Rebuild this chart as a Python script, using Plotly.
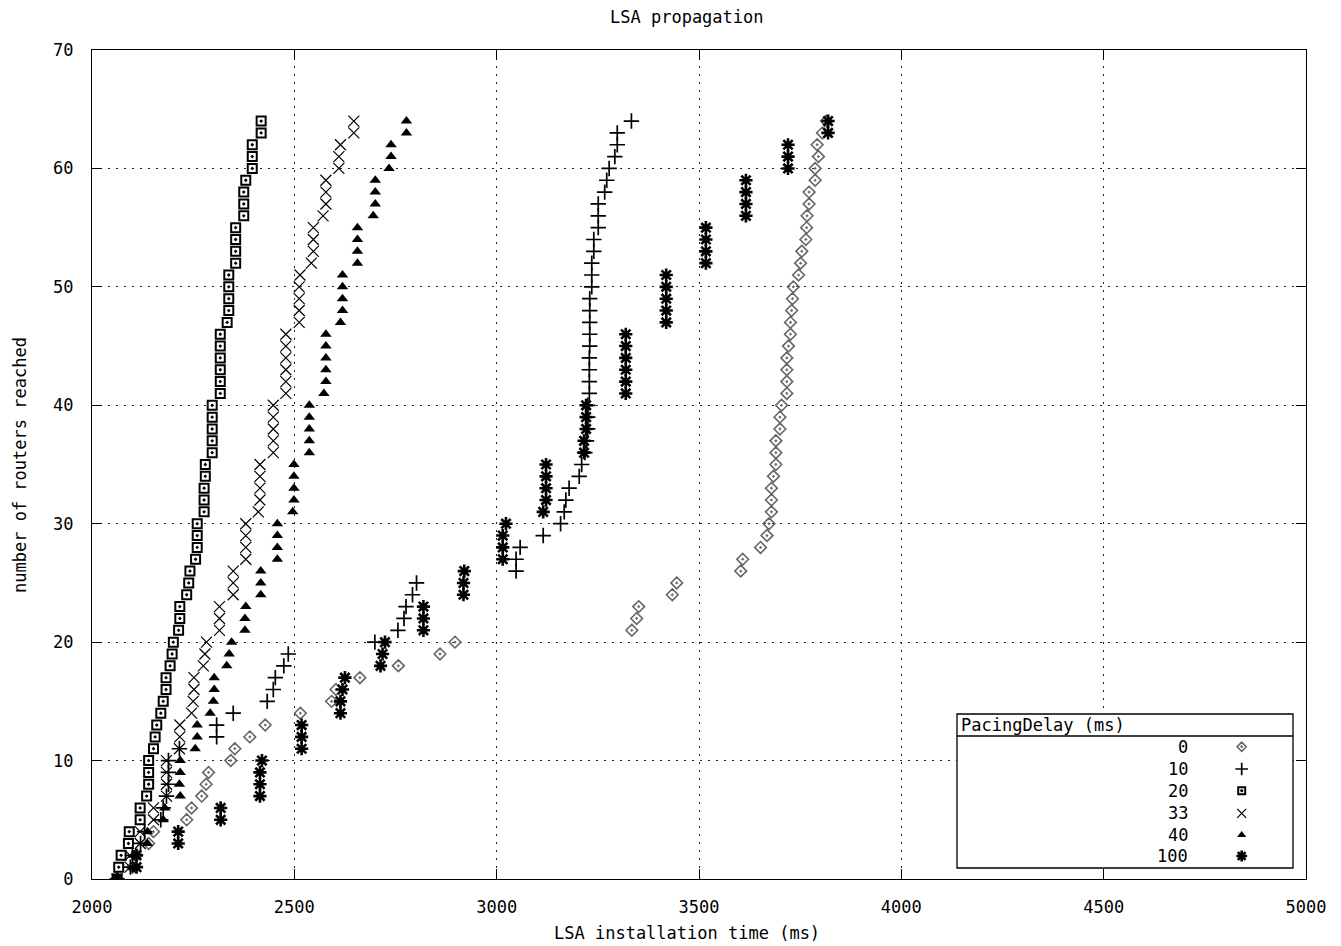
import plotly.graph_objects as go

# ---------------- data ----------------
routers_reached = list(range(65))

time_delay_0 = [2062, 2100, 2110, 2140, 2152, 2234, 2246, 2271, 2282, 2288,
                2343, 2353, 2390, 2428, 2515, 2592, 2603, 2662, 2757, 2860,
                2897, 3334, 3346, 3351, 3434, 3445, 3603, 3608, 3652, 3668,
                3673, 3679, 3679, 3679, 3684, 3690, 3690, 3690, 3700, 3700,
                3704, 3717, 3717, 3717, 3717, 3721, 3726, 3726, 3729, 3731,
                3733, 3746, 3751, 3754, 3764, 3766, 3767, 3772, 3772, 3787,
                3787, 3795, 3792, 3805, 3815]

time_delay_10 = [2062, 2095, 2100, 2120, 2130, 2170, 2176, 2184, 2189, 2189,
                 2189, 2216, 2308, 2308, 2349, 2433, 2448, 2453, 2474, 2485,
                 2699, 2756, 2771, 2776, 2792, 2802, 3048, 3048, 3058, 3115,
                 3158, 3167, 3171, 3179, 3204, 3210, 3218, 3222, 3225, 3225,
                 3225, 3229, 3229, 3229, 3229, 3230, 3230, 3230, 3230, 3230,
                 3235, 3235, 3235, 3240, 3240, 3251, 3251, 3251, 3267, 3272,
                 3278, 3292, 3298, 3298, 3333]

time_delay_20 = [2062, 2066, 2072, 2090, 2092, 2119, 2119, 2135, 2140, 2140,
                 2140, 2152, 2156, 2160, 2170, 2176, 2183, 2183, 2193, 2198,
                 2201, 2214, 2217, 2217, 2234, 2239, 2242, 2256, 2260, 2260,
                 2260, 2277, 2277, 2277, 2280, 2280, 2297, 2297, 2297, 2297,
                 2297, 2317, 2317, 2317, 2317, 2317, 2317, 2334, 2338, 2338,
                 2338, 2338, 2355, 2355, 2355, 2355, 2375, 2375, 2375, 2380,
                 2396, 2396, 2396, 2418, 2418]

time_delay_33 = [2062, 2094, 2094, 2119, 2119, 2152, 2152, 2184, 2184, 2184,
                 2184, 2216, 2217, 2217, 2246, 2250, 2252, 2252, 2275, 2279,
                 2283, 2315, 2315, 2315, 2349, 2349, 2349, 2380, 2380, 2380,
                 2380, 2411, 2415, 2415, 2415, 2415, 2448, 2448, 2448, 2448,
                 2448, 2479, 2479, 2479, 2479, 2479, 2479, 2512, 2512, 2512,
                 2512, 2514, 2542, 2547, 2547, 2547, 2571, 2578, 2578, 2578,
                 2610, 2610, 2614, 2647, 2647]

time_delay_40 = [2062, 2102, 2102, 2137, 2137, 2176, 2180, 2218, 2216, 2218,
                 2218, 2255, 2260, 2260, 2292, 2300, 2302, 2302, 2333, 2339,
                 2345, 2378, 2378, 2380, 2417, 2417, 2417, 2458, 2458, 2458,
                 2458, 2496, 2499, 2499, 2499, 2499, 2537, 2537, 2537, 2537,
                 2537, 2573, 2578, 2578, 2578, 2578, 2578, 2614, 2619, 2619,
                 2619, 2619, 2656, 2656, 2656, 2656, 2695, 2700, 2700, 2700,
                 2734, 2739, 2739, 2777, 2777]

time_delay_100 = [2062, 2110, 2110, 2213, 2213, 2318, 2318, 2415, 2415, 2415,
                  2420, 2518, 2518, 2518, 2614, 2614, 2619, 2625, 2713, 2718,
                  2724, 2819, 2819, 2819, 2918, 2918, 2920, 3015, 3015, 3015,
                  3023, 3115, 3122, 3122, 3122, 3122, 3216, 3216, 3221, 3221,
                  3221, 3319, 3319, 3319, 3319, 3319, 3319, 3419, 3419, 3419,
                  3419, 3419, 3517, 3517, 3517, 3517, 3616, 3616, 3616, 3616,
                  3720, 3720, 3720, 3819, 3819]

delay_labels = ["0", "10", "20", "33", "40", "100"]
series_times = [time_delay_0, time_delay_10, time_delay_20,
                time_delay_33, time_delay_40, time_delay_100]

x_ticks = [2000, 2500, 3000, 3500, 4000, 4500, 5000]
y_ticks = [0, 10, 20, 30, 40, 50, 60, 70]

# ---------------- styles ----------------
FONT = "DejaVu Sans Mono"
FS = 17
marker_styles = [
    dict(symbol="diamond-open-dot", size=9, color="#666666", line=dict(width=1.6, color="#666666")),
    dict(symbol="cross-thin-open", size=11, color="black", line=dict(width=1.7, color="black")),
    dict(symbol="square-open-dot", size=9, color="black", line=dict(width=2, color="black")),
    dict(symbol="x-thin-open", size=11, color="black", line=dict(width=1.2, color="black")),
    dict(symbol="triangle-up", size=10, color="black", line=dict(width=0)),
    dict(symbol="asterisk-open", size=11, color="black", line=dict(width=2.6, color="black")),
]

W, H = 1341, 946
L, R, T, B = 92, 1306, 50, 879
pw, ph = R - L, B - T
X0, X1 = x_ticks[0], x_ticks[-1]
Y0, Y1 = y_ticks[0], y_ticks[-1]

fig = go.Figure()
for lab, ts, ms in zip(delay_labels, series_times, marker_styles):
    fig.add_trace(go.Scatter(x=ts, y=routers_reached, mode="markers",
                             marker=ms, name=lab, showlegend=False))

# ---------------- custom gnuplot-style key ----------------
def fx(px):
    return (px - L) / pw

def fy(py):
    return (B - py) / ph

def dx(px):
    return X0 + fx(px) * (X1 - X0)

def dy(py):
    return Y0 + fy(py) * (Y1 - Y0)

row_y = [746.7, 769, 790.7, 813.3, 835, 856]
sym_x = 1241.7
lab_x = 1190

fig.add_shape(type="rect", xref="x", yref="y", x0=dx(957), x1=dx(1293),
              y0=dy(868), y1=dy(714), line=dict(color="black", width=1.3),
              fillcolor="white", layer="between")
fig.add_shape(type="line", xref="x", yref="y", x0=dx(957), x1=dx(1293),
              y0=dy(736), y1=dy(736), line=dict(color="black", width=1.3),
              layer="between")
fig.add_annotation(xref="paper", yref="paper", x=fx(959), y=fy(725), text="PacingDelay (ms)",
                   showarrow=False, xanchor="left", yanchor="middle",
                   font=dict(family=FONT, size=FS, color="black"))
for i, (lab, ms) in enumerate(zip(delay_labels, marker_styles)):
    fig.add_annotation(xref="paper", yref="paper", x=fx(lab_x), y=fy(row_y[i]), text=lab,
                       showarrow=False, xanchor="right", yanchor="middle",
                       font=dict(family=FONT, size=FS, color="black"))
    lm = dict(ms)
    lm["size"] = max(6, ms["size"] - 2)
    fig.add_trace(go.Scatter(x=[fx(sym_x)], y=[fy(row_y[i])], mode="markers",
                             marker=lm, xaxis="x2", yaxis="y2", showlegend=False,
                             hoverinfo="skip"))

axis_common = dict(
    showline=True, linecolor="black", linewidth=1.3, mirror="ticks",
    ticks="inside", ticklen=10, tickwidth=1.3, tickcolor="black",
    showgrid=True, gridcolor="#222222", gridwidth=1, griddash="2px,6px",
    zeroline=False, tickfont=dict(family=FONT, size=FS, color="black"),
)

fig.update_layout(
    width=W, height=H,
    margin=dict(l=L, r=W - R, t=T, b=H - B),
    paper_bgcolor="white", plot_bgcolor="white",
    showlegend=False,
    xaxis=dict(range=[X0, X1], tickvals=x_ticks, ticklabelstandoff=12, **axis_common),
    yaxis=dict(range=[Y0, Y1], tickvals=y_ticks, ticklabelstandoff=14, **axis_common),
    xaxis2=dict(overlaying="x", anchor="y2", range=[0, 1], visible=False),
    yaxis2=dict(overlaying="y", anchor="x2", range=[0, 1], visible=False),
    font=dict(family=FONT, size=FS, color="black"),
)

fig.add_annotation(xref="paper", yref="paper", x=0.49, y=fy(17), text="LSA propagation",
                   showarrow=False, xanchor="center", yanchor="middle",
                   font=dict(family=FONT, size=FS, color="black"))
fig.add_annotation(xref="paper", yref="paper", x=0.49, y=fy(933),
                   text="LSA installation time (ms)", showarrow=False,
                   xanchor="center", yanchor="middle",
                   font=dict(family=FONT, size=FS, color="black"))
fig.add_annotation(xref="paper", yref="paper", x=fx(20), y=fy(465),
                   text="number of routers reached", showarrow=False, textangle=-90,
                   xanchor="center", yanchor="middle",
                   font=dict(family=FONT, size=FS, color="black"))

fig.write_html("out.html")
